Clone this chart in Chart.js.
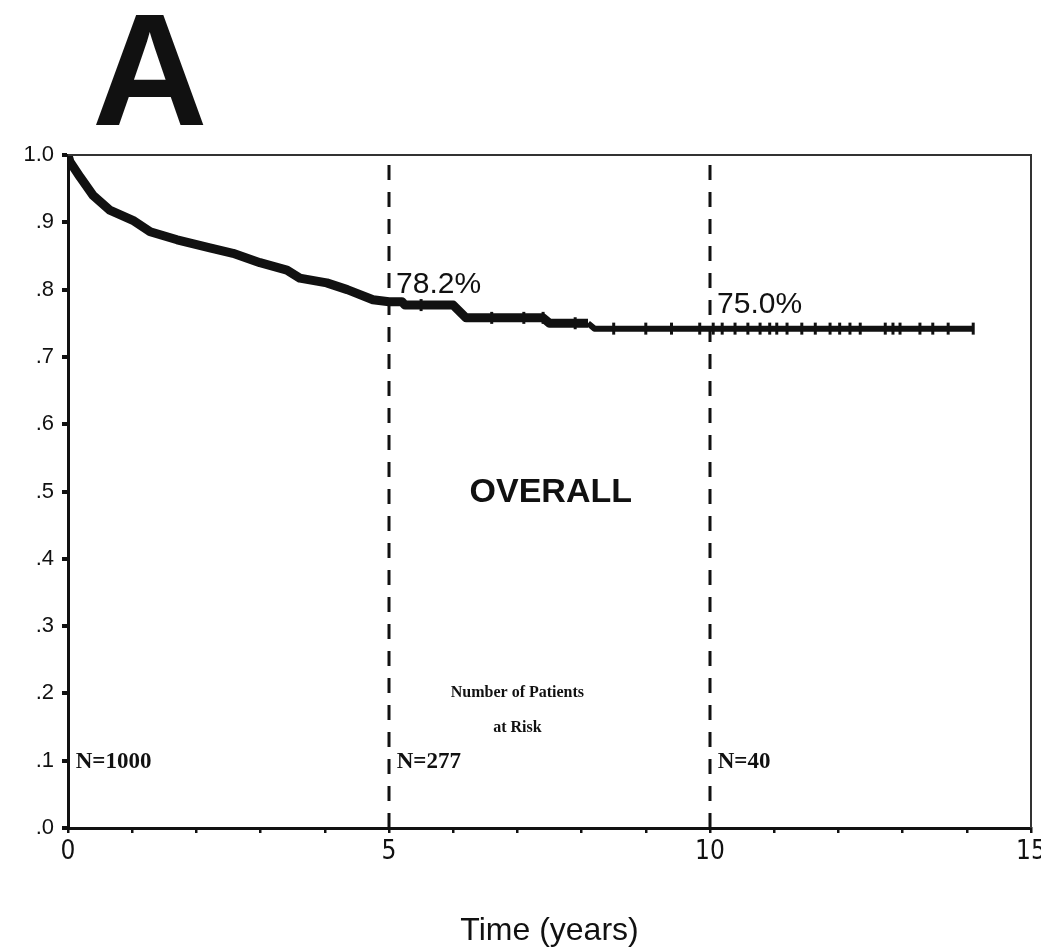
<!DOCTYPE html>
<html>
<head>
<meta charset="utf-8">
<script src="https://cdn.jsdelivr.net/npm/chart.js@4/dist/chart.umd.min.js"></script>
<style>
  html, body { margin: 0; padding: 0; background: #fff; }
  #wrap { width: 1041px; height: 948px; position: relative; }
</style>
</head>
<body>
<div id="wrap"><canvas id="km"></canvas></div>
<script>
// survival curve (years, proportion surviving)
const timeYears = [0, 0.03, 0.19, 0.39, 0.65, 1.01, 1.28, 1.70, 2.21, 2.57, 2.99, 3.41, 3.61, 4.03, 4.35, 4.75, 5.0, 5.2, 5.25, 6.0, 6.2, 7.4, 7.5, 8.1, 8.2, 14.1];
const survival = [1.0, 0.99, 0.967, 0.94, 0.918, 0.903, 0.886, 0.874, 0.862, 0.854, 0.84, 0.829, 0.817, 0.81, 0.80, 0.785, 0.782, 0.782, 0.777, 0.777, 0.758, 0.758, 0.75, 0.75, 0.742, 0.742];

// censored observations (tick marks on the curve)
const censorYears = [5.5, 6.6, 7.1, 7.4, 7.9, 8.5, 9.0, 9.4, 9.84, 10.05, 10.19, 10.39, 10.59, 10.78, 10.93, 11.04, 11.2, 11.43, 11.64, 11.87, 12.02, 12.18, 12.34, 12.73, 12.85, 12.96, 13.27, 13.47, 13.71, 14.1];

const landmarkYears = [5, 10];
const landmarkLabels = ['78.2%', '75.0%'];
const atRiskYears = [0, 5, 10];
const atRiskLabels = ['N=1000', 'N=277', 'N=40'];
const yTicks = [0, 0.1, 0.2, 0.3, 0.4, 0.5, 0.6, 0.7, 0.8, 0.9, 1.0];
const xTickLabels = [0, 5, 10, 15];

const curvePts = timeYears.map((t, i) => ({ x: t, y: survival[i] }));
const survAt = (t) => {
	let v = survival[0];
	for (let i = 0; i < timeYears.length; i++) if (timeYears[i] <= t) v = survival[i];
	return v;
};
const censorPts = censorYears.map((t) => ({ x: t, y: survAt(t) }));

const INK = '#111';

const landmarkSets = landmarkYears.map((t) => ({
	data: [{ x: t, y: 0 }, { x: t, y: 1 }],
	borderColor: INK,
	borderWidth: 3,
	borderDash: [15, 12],
	pointRadius: 0,
	fill: false
}));

const annotate = {
	id: 'annotate',
	afterDatasetsDraw(chart) {
		const { ctx, chartArea: a, scales: { x, y } } = chart;
		ctx.save();
		// frame top / right
		ctx.strokeStyle = '#333';
		ctx.lineWidth = 2;
		ctx.beginPath();
		ctx.moveTo(a.left, a.top);
		ctx.lineTo(a.right, a.top);
		ctx.lineTo(a.right, a.bottom);
		ctx.stroke();

		ctx.fillStyle = INK;
		ctx.textBaseline = 'alphabetic';

		// landmark percentages
		ctx.font = '30px "Liberation Sans", Arial, sans-serif';
		ctx.textAlign = 'left';
		landmarkYears.forEach((t, i) => {
			ctx.fillText(landmarkLabels[i], x.getPixelForValue(t + 0.11), y.getPixelForValue(i === 0 ? 0.795 : 0.765));
		});

		// panel caption
		ctx.font = 'bold 34px "Liberation Sans", Arial, sans-serif';
		ctx.textAlign = 'center';
		ctx.fillText('OVERALL', x.getPixelForValue(7.52), y.getPixelForValue(0.484));

		// numbers at risk
		ctx.font = 'bold 16px "Liberation Serif", "Times New Roman", serif';
		ctx.fillText('Number of Patients', x.getPixelForValue(7.0), y.getPixelForValue(0.195));
		ctx.fillText('at Risk', x.getPixelForValue(7.0), y.getPixelForValue(0.143));
		ctx.font = 'bold 23px "Liberation Serif", "Times New Roman", serif';
		ctx.textAlign = 'left';
		atRiskYears.forEach((t, i) => {
			ctx.fillText(atRiskLabels[i], x.getPixelForValue(t + 0.12), y.getPixelForValue(0.089));
		});

		// axis title and panel letter
		ctx.font = '32px "Liberation Sans", Arial, sans-serif';
		ctx.textAlign = 'center';
		ctx.fillText('Time (years)', x.getPixelForValue(7.5), 940);
		ctx.font = 'bold 160px "Liberation Sans", Arial, sans-serif';
		ctx.textAlign = 'left';
		ctx.fillText('A', 92, 125);
		ctx.restore();
	}
};

new Chart(document.getElementById('km'), {
	type: 'line',
	data: {
		datasets: [
			{
				data: curvePts,
				borderColor: INK,
				borderWidth: 9,
				pointRadius: 0,
				tension: 0,
				fill: false,
				borderJoinStyle: 'round',
				segment: {
					borderWidth: (c) => (c.p0.parsed.x >= 12.3 ? 2.5 : c.p0.parsed.x >= 8.1 ? 6 : 9)
				}
			},
			{
				data: censorPts,
				showLine: false,
				pointStyle: 'line',
				rotation: 90,
				pointRadius: 6,
				borderWidth: 3,
				borderColor: INK
			},
			...landmarkSets
		]
	},
	options: {
		responsive: true,
		maintainAspectRatio: false,
		animation: false,
		layout: { padding: { top: 155, right: 10, left: 0, bottom: 0 } },
		plugins: { legend: { display: false }, tooltip: { enabled: false } },
		scales: {
			x: {
				type: 'linear',
				min: 0,
				max: 15,
				afterFit: (s) => { s.height = 120; s.paddingLeft = 0; s.paddingRight = 0; },
				border: { display: true, color: INK, width: 3 },
				grid: { display: true, drawOnChartArea: false, drawTicks: true, tickLength: 5, color: INK, lineWidth: 2.5 },
				ticks: {
					stepSize: 1,
					padding: 4,
					color: INK,
					font: { family: '"Liberation Sans Narrow", "DejaVu Sans Condensed", Arial, sans-serif', size: 26 },
					maxRotation: 0,
					autoSkip: false,
					callback: (v) => (xTickLabels.includes(v) ? String(v) : '')
				}
			},
			y: {
				type: 'linear',
				min: 0,
				max: 1,
				afterFit: (s) => { s.width = 68; s.paddingTop = 0; s.paddingBottom = 0; },
				afterBuildTicks: (s) => { s.ticks = yTicks.map((v) => ({ value: v })); },
				border: { display: true, color: INK, width: 3 },
				grid: { display: true, drawOnChartArea: false, drawTicks: true, tickLength: 6, color: INK, lineWidth: 4 },
				ticks: {
					padding: 8,
					color: INK,
					font: { family: '"Liberation Sans", Arial, sans-serif', size: 22 },
					callback: (v) => (v >= 0.999 ? '1.0' : '.' + Math.round(v * 10))
				}
			}
		}
	},
	plugins: [annotate]
});
</script>
</body>
</html>
